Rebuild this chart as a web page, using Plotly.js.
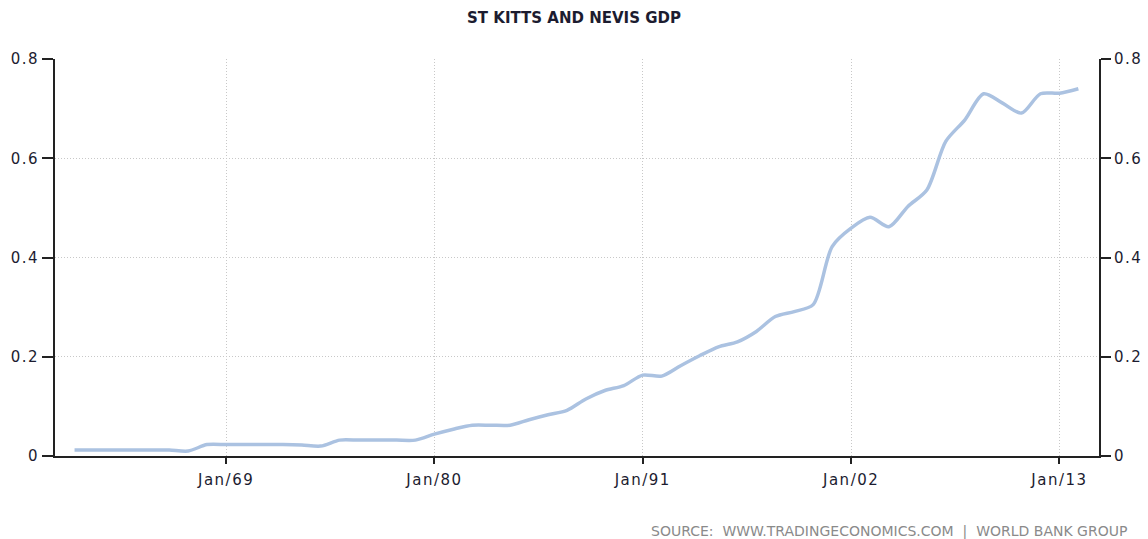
<!DOCTYPE html>
<html>
<head>
<meta charset="utf-8">
<script src="https://cdn.plot.ly/plotly-3.0.1.min.js"></script>
<style>
html,body{margin:0;padding:0;background:#fff;}
#chart{width:1148px;height:539px;}
#chart .xtick text, #chart .ytick text, #chart .y2tick text {letter-spacing:1.5px;}
</style>
</head>
<body>
<div id="chart"></div>
<script>
// Annual data (year-end observation), USD billions
const years = [1960,1961,1962,1963,1964,1965,1966,1967,1968,1969,
               1970,1971,1972,1973,1974,1975,1976,1977,1978,1979,
               1980,1981,1982,1983,1984,1985,1986,1987,1988,1989,
               1990,1991,1992,1993,1994,1995,1996,1997,1998,1999,
               2000,2001,2002,2003,2004,2005,2006,2007,2008,2009,
               2010,2011,2012,2013];
const gdp = [0.012,0.012,0.012,0.012,0.012,0.012,0.010,0.023,0.023,0.023,
             0.023,0.023,0.022,0.020,0.032,0.032,0.032,0.032,0.032,0.044,
             0.054,0.062,0.062,0.062,0.073,0.083,0.092,0.115,0.132,0.142,
             0.163,0.161,0.182,0.202,0.220,0.230,0.251,0.281,0.291,0.305,
             0.422,0.459,0.481,0.462,0.503,0.536,0.634,0.677,0.730,0.711,
             0.691,0.730,0.731,0.740];
const xTickDates = ['1969-01-01','1980-01-01','1991-01-01','2002-01-01','2013-01-01'];
const xTickLabels = ['Jan/69','Jan/80','Jan/91','Jan/02','Jan/13'];
const yTicks = [0,0.2,0.4,0.6,0.8];
const yTickLabels = ['0','0.2','0.4','0.6','0.8'];

const xDates = years.map(y => y + '-12-31');

const tickFont = {family:'DejaVu Sans, Verdana, sans-serif', size:15, color:'#1c1c30'};
const gridDash = '1px,2px';

const trace = {
  x: xDates, y: gdp, type:'scatter', mode:'lines',
  line:{color:'#abc2e1', width:3.5, shape:'spline', smoothing:0.8},
  hoverinfo:'x+y', showlegend:false
};
const trace2 = {
  x: xDates, y: gdp, type:'scatter', mode:'lines', yaxis:'y2',
  line:{color:'rgba(0,0,0,0)', width:0}, hoverinfo:'skip', showlegend:false
};

const layout = {
  width:1148, height:539,
  margin:{l:55, r:49, t:59, b:83},
  paper_bgcolor:'#fff', plot_bgcolor:'#fff',
  title:{text:'ST KITTS AND NEVIS GDP', x:0.5, xanchor:'center', y:0.967, yanchor:'middle',
         font:{family:'DejaVu Sans, Verdana, sans-serif', size:15, color:'#1c1c30', weight:'bold'}},
  xaxis:{
    type:'date', range:['1959-12-20','2015-02-02'],
    tickmode:'array', tickvals:xTickDates, ticktext:xTickLabels,
    ticks:'outside', ticklen:6, tickwidth:2, tickcolor:'#222',
    ticklabelstandoff:3,
    showline:true, linecolor:'#222', linewidth:2,
    showgrid:true, gridcolor:'#c8c8c8', griddash:gridDash, gridwidth:1,
    zeroline:false, tickfont:tickFont
  },
  yaxis:{
    range:[0,0.8], tickmode:'array', tickvals:yTicks, ticktext:yTickLabels,
    ticks:'outside', ticklen:11, tickwidth:2, tickcolor:'#222',
    showline:true, linecolor:'#222', linewidth:2,
    showgrid:true, gridcolor:'#c8c8c8', griddash:gridDash, gridwidth:1,
    zeroline:false, tickfont:tickFont
  },
  yaxis2:{
    overlaying:'y', side:'right', range:[0,0.8],
    tickmode:'array', tickvals:yTicks, ticktext:yTickLabels,
    ticks:'outside', ticklen:10, tickwidth:2, tickcolor:'#222',
    showline:true, linecolor:'#222', linewidth:2,
    showgrid:false, zeroline:false, tickfont:tickFont
  },
  annotations:[{
    text:'SOURCE:  WWW.TRADINGECONOMICS.COM  |  WORLD BANK GROUP',
    xref:'paper', yref:'paper', x:1.0, xshift:30, y:-0.19, xanchor:'right', yanchor:'middle',
    showarrow:false,
    font:{family:'DejaVu Sans, Verdana, sans-serif', size:14, color:'#8a8a8a'}
  }]
};

Plotly.newPlot('chart', [trace, trace2], layout, {displayModeBar:false, staticPlot:true});
</script>
</body>
</html>
